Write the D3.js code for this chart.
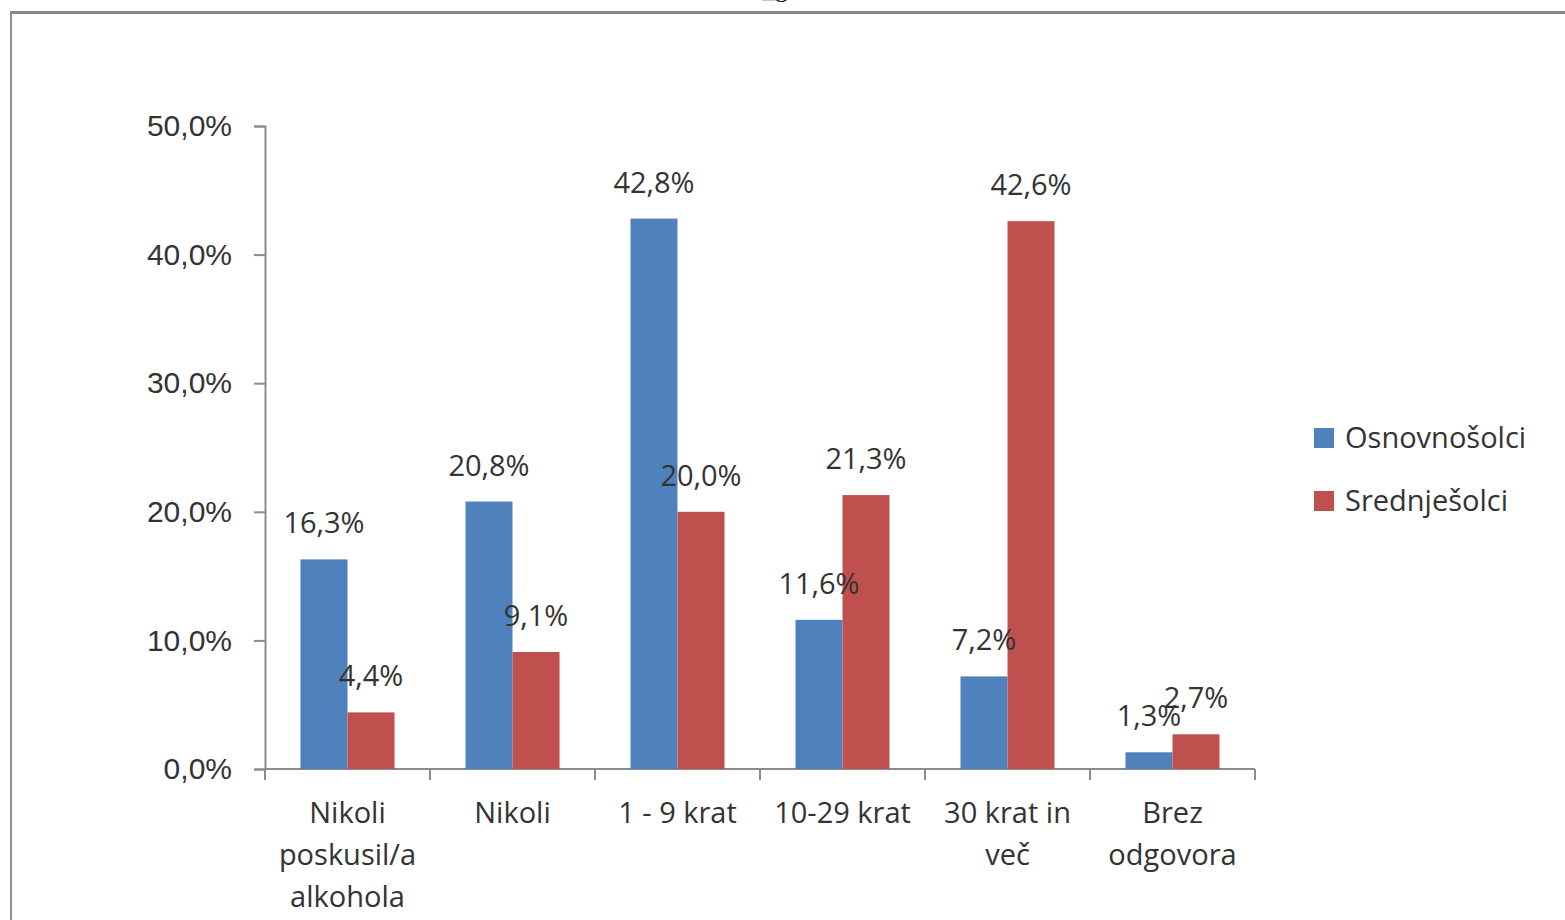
<!DOCTYPE html>
<html>
<head>
<meta charset="utf-8">
<script src="https://cdn.jsdelivr.net/npm/d3@7"></script>
<style>
  body { margin: 0; background: #fff; }
  svg { display: block; font-family: "Open Sans", Lato, sans-serif; }
  .axis path, .axis line { stroke: #8c8c8c; stroke-width: 2; }
  .axis text { fill: #333; font-size: 30px; }
</style>
</head>
<body>
<div id="chart"></div>
<script>
var categories = ["Nikoli\nposkusil/a\nalkohola", "Nikoli", "1 - 9 krat", "10-29 krat", "30 krat in\nveč", "Brez\nodgovora"];
var series = ["Osnovnošolci", "Srednješolci"];
var osnovnosolci = [16.3, 20.8, 42.8, 11.6, 7.2, 1.3];
var srednjesolci = [4.4, 9.1, 20.0, 21.3, 42.6, 2.7];
var yTicks = [0, 10, 20, 30, 40, 50];
var colors = ["#4f81bd", "#c0504d"];

var W = 1565, H = 920;
var plot = {L: 265, R: 1255, T: 126, B: 769};

var locale = d3.formatLocale({decimal: ",", thousands: ".", grouping: [3], currency: ["", "€"]});
var fmt = function(v) { return locale.format(".1f")(v) + "%"; };

var data = categories.map(function(c, i) {
  return {k: c, v: [osnovnosolci[i], srednjesolci[i]]};
});

var svg = d3.select("#chart").append("svg")
  .attr("width", W).attr("height", H);

// frame of the pasted picture
svg.append("rect").attr("x", 0).attr("y", 0).attr("width", W).attr("height", H).attr("fill", "#fff");
svg.append("line").attr("x1", 10).attr("x2", W).attr("y1", 12.5).attr("y2", 12.5)
  .attr("stroke", "#878787").attr("stroke-width", 3);
svg.append("line").attr("x1", 11).attr("x2", 11).attr("y1", 11).attr("y2", H)
  .attr("stroke", "#8f8f8f").attr("stroke-width", 2);
svg.append("text").attr("x", 775).attr("y", -3).attr("text-anchor", "middle")
  .style("font-family", "Liberation Serif").style("font-size", "26px").attr("fill", "#111")
  .text("_g");

var x0 = d3.scaleBand().domain(categories).range([plot.L, plot.R]);
var x1 = d3.scaleBand().domain(series).range([0, x0.bandwidth()]).paddingOuter(0.755);
var y = d3.scaleLinear().domain([0, 50]).range([plot.B, plot.T]);

var yAxis = d3.axisLeft(y).tickValues(yTicks).tickFormat(fmt).tickSizeInner(11).tickSizeOuter(11).tickPadding(22);
var gy = svg.append("g").attr("class", "axis axis-y")
  .attr("transform", "translate(" + plot.L + ",0)")
  .call(yAxis);

var xAxis = d3.axisBottom(x0).tickSize(0).tickFormat("");
var gx = svg.append("g").attr("class", "axis axis-x")
  .attr("transform", "translate(0," + plot.B + ")")
  .call(xAxis);
gx.select(".domain").attr("d", "M" + plot.L + ",0H" + plot.R);
// category separators
var seps = categories.map(function(c) { return x0(c); }).concat([plot.R]);
gx.selectAll(".sep").data(seps).enter().append("line")
  .attr("class", "sep")
  .attr("x1", function(d) { return d; }).attr("x2", function(d) { return d; })
  .attr("y1", 0).attr("y2", 11);

// category labels
var lab = svg.append("g").selectAll("text").data(categories).enter().append("text")
  .attr("text-anchor", "middle")
  .attr("fill", "#333")
  .style("font-size", "29px")
  .attr("transform", function(d) { return "translate(" + (x0(d) + x0.bandwidth() / 2) + ",823)"; });
lab.selectAll("tspan").data(function(d) { return d.split("\n"); }).enter().append("tspan")
  .attr("x", 0).attr("y", function(d, i) { return i * 42; })
  .text(function(d) { return d; });

// bars
var groups = svg.append("g").selectAll("g").data(data).enter().append("g")
  .attr("transform", function(d) { return "translate(" + x0(d.k) + ",0)"; });

groups.selectAll("rect").data(function(d) { return d.v; }).enter().append("rect")
  .attr("x", function(d, i) { return x1(series[i]); })
  .attr("width", x1.bandwidth())
  .attr("y", function(d) { return y(d); })
  .attr("height", function(d) { return y(0) - y(d); })
  .attr("fill", function(d, i) { return colors[i]; });

groups.selectAll("text").data(function(d) { return d.v; }).enter().append("text")
  .attr("text-anchor", "middle")
  .attr("fill", "#333")
  .style("font-size", "29px")
  .attr("x", function(d, i) { return x1(series[i]) + x1.bandwidth() / 2; })
  .attr("y", function(d) { return y(d) - 26; })
  .text(fmt);

// legend
var leg = svg.append("g").selectAll("g").data(series).enter().append("g")
  .attr("transform", function(d, i) { return "translate(1314," + (428 + i * 63) + ")"; });
leg.append("rect").attr("width", 20).attr("height", 20)
  .attr("fill", function(d, i) { return colors[i]; });
leg.append("text").attr("x", 31).attr("y", 20)
  .attr("fill", "#333").style("font-size", "29px")
  .text(function(d) { return d; });
</script>
</body>
</html>
